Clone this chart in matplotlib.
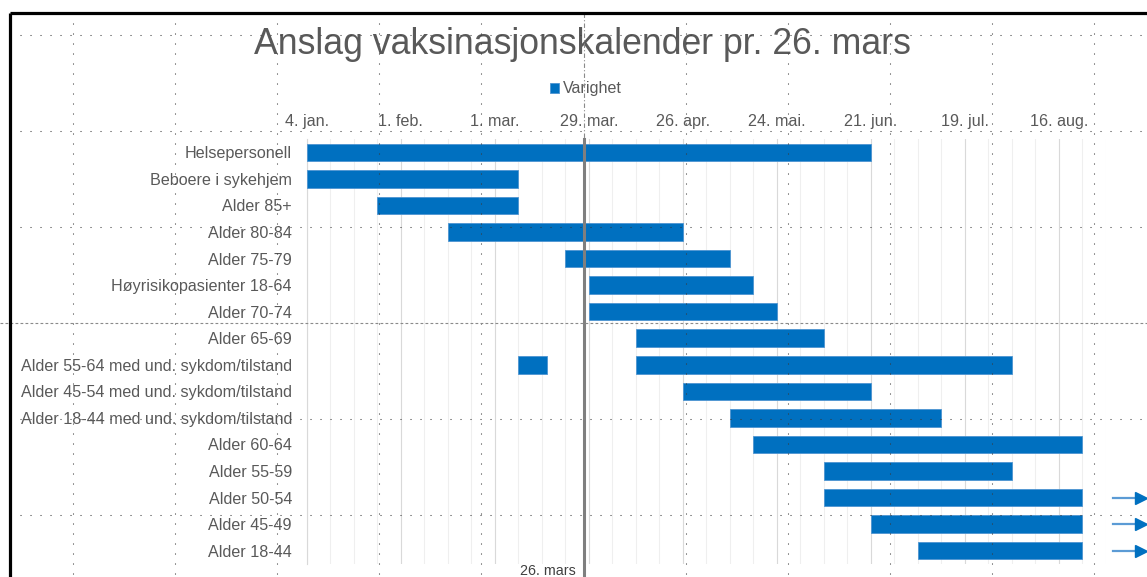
#!/usr/bin/env python3
# Gantt-style vaccination calendar (Excel look), saved as out.png

import datetime as dt
import numpy as np
import matplotlib
matplotlib.use('Agg')
import matplotlib.pyplot as plt
import matplotlib.dates as mdates
import matplotlib.transforms as mtransforms

plt.rcParams['font.family'] = ['Liberation Sans', 'DejaVu Sans']

# --- data -------------------------------------------------------------
CATEGORIES = [
    'Helsepersonell',
    'Beboere i sykehjem',
    'Alder 85+',
    'Alder 80-84',
    'Alder 75-79',
    'Høyrisikopasienter 18-64',
    'Alder 70-74',
    'Alder 65-69',
    'Alder 55-64 med und. sykdom/tilstand',
    'Alder 45-54 med und. sykdom/tilstand',
    'Alder 18-44 med und. sykdom/tilstand',
    'Alder 60-64',
    'Alder 55-59',
    'Alder 50-54',
    'Alder 45-49',
    'Alder 18-44',
]
START = [
    '2021-01-04', '2021-01-04', '2021-01-25', '2021-02-15', '2021-03-22',
    '2021-03-29', '2021-03-29', '2021-04-12', '2021-04-12', '2021-04-26',
    '2021-05-10', '2021-05-17', '2021-06-07', '2021-06-07', '2021-06-21',
    '2021-07-05',
]
VARIGHET = [168, 63, 42, 70, 49, 49, 56, 56, 112, 56, 63, 98, 56, 77, 63, 49]

# extra short segment
EXTRA_CATEGORY = ['Alder 55-64 med und. sykdom/tilstand']
EXTRA_START = ['2021-03-08']
EXTRA_VARIGHET = [8.5]

# rows that continue past the axis (arrows)
ARROW_ROWS = ['Alder 50-54', 'Alder 45-49', 'Alder 18-44']

TICK_DATES = ['2021-01-04', '2021-02-01', '2021-03-01', '2021-03-29', '2021-04-26',
              '2021-05-24', '2021-06-21', '2021-07-19', '2021-08-16']
TICK_LABELS = ['4. jan.', '1. feb.', '1. mar.', '29. mar.', '26. apr.',
               '24. mai.', '21. jun.', '19. jul.', '16. aug.']
X_MIN = '2021-01-04'
X_MAX = '2021-08-30'

TODAY = '2021-03-27 12:00'
TODAY_LABEL = '26. mars'

TITLE = 'Anslag vaksinasjonskalender pr. 26. mars'
LEGEND_LABEL = 'Varighet'

BAR_COLOR = '#0070C0'
TEXT_COLOR = '#595959'


def to_num(s):
    return mdates.date2num(dt.datetime.fromisoformat(s))


W, H = 1147, 577
fig = plt.figure(figsize=(W / 100, H / 100), dpi=100)
fig.patch.set_facecolor('white')

# plot area in pixels: x 306.7..1106, y 139..563
ax = fig.add_axes([306.7 / W, 1 - 564 / H, (1106 - 306.7) / W, (564 - 139) / H])

y = np.arange(len(CATEGORIES))
starts = [to_num(s) for s in START]
bars = ax.barh(y, VARIGHET, left=starts, height=0.66, color=BAR_COLOR,
               edgecolor='#4D94D1', linewidth=0.6, label=LEGEND_LABEL, zorder=3)

for cat, s, d in zip(EXTRA_CATEGORY, EXTRA_START, EXTRA_VARIGHET):
    ax.barh(CATEGORIES.index(cat), d, left=to_num(s), height=0.66, color=BAR_COLOR,
            edgecolor='#4D94D1', linewidth=0.6, zorder=3)

x0, x1 = to_num(X_MIN), to_num(X_MAX)
ax.set_xlim(x0, x1)
ax.set_ylim(len(CATEGORIES) - 0.5, -0.5)

ax.set_yticks(y)
ax.set_yticklabels(CATEGORIES)
ax.set_xticks([to_num(d) for d in TICK_DATES])
ax.set_xticklabels(TICK_LABELS)
ax.set_xticks(np.arange(x0, x1 + 1, 7), minor=True)
ax.xaxis.tick_top()
ax.tick_params(axis='both', which='both', length=0, colors=TEXT_COLOR, labelsize=11.6)
ax.tick_params(axis='y', pad=10.6)
ax.tick_params(axis='x', pad=7)

ax.grid(axis='x', which='major', color='#D9D9D9', linewidth=0.8, zorder=0)
ax.grid(axis='x', which='minor', color='#EFEFEF', linewidth=0.8, zorder=0)
for name, sp in ax.spines.items():
    sp.set_visible(name == 'left')
ax.spines['left'].set_color('#D9D9D9')

# today line
t = to_num(TODAY)
ax.axvline(t, ymin=-0.05, ymax=1, color='#7F7F7F', linewidth=2.2, zorder=5, clip_on=False)
ax.annotate(TODAY_LABEL, xy=(t, 0), xycoords=('data', 'axes fraction'),
            xytext=(-8, -7), textcoords='offset pixels', ha='right', va='center',
            fontsize=10.3, color='#404040')

# arrows for rows that continue
blend = mtransforms.blended_transform_factory(fig.transFigure, ax.transData)
for row in ARROW_ROWS:
    yr = CATEGORIES.index(row)
    ax.plot([1113 / W, 1138 / W], [yr, yr], transform=blend, color='#5B9BD5',
            linewidth=1.6, clip_on=False)
    ax.plot([1141 / W], [yr], transform=blend, marker='>', markersize=9,
            color=BAR_COLOR, clip_on=False, linestyle='none')

fig.text(582 / W, 1 - 45 / H, TITLE, ha='center', va='center',
         fontsize=25.7, color=TEXT_COLOR)
fig.legend(handles=[bars], labels=[LEGEND_LABEL], loc='center',
           bbox_to_anchor=(586 / W, 1 - 89 / H), frameon=False, fontsize=11.6,
           handlelength=0.55, handleheight=0.55, handletextpad=0.25,
           labelcolor=TEXT_COLOR)

# --- overlay: frame and editor guide grid -----------------------------
ov = fig.add_axes([0, 0, 1, 1], zorder=10)
ov.set_xlim(0, W)
ov.set_ylim(H, 0)
ov.axis('off')
ov.patch.set_visible(False)

dots = dict(color='#3a3a3a', linewidth=0.75, linestyle=(0, (1, 8.6)))
for gx in 73 + 102.1 * np.arange(11):
    if abs(gx - 583) < 5:
        ov.plot([gx, gx], [13, 139], color='#8a8a8a', linewidth=0.8,
                linestyle=(0, (4, 2, 1, 2)))
        continue
    ov.plot([gx, gx], [13, H], **dots)
for gy in 35 + 96 * np.arange(6):
    if abs(gy - 323) < 5:
        ov.plot([0, W], [gy, gy], color='#8a8a8a', linewidth=0.8, linestyle=(0, (2.5, 2)))
        continue
    ov.plot([10, W], [gy, gy], **dots)

ov.plot([10, W], [13, 13], color='black', linewidth=2.3, solid_capstyle='butt')
ov.plot([10, 10], [13, H], color='black', linewidth=2.3, solid_capstyle='butt')

fig.savefig('out.png', dpi=100)
